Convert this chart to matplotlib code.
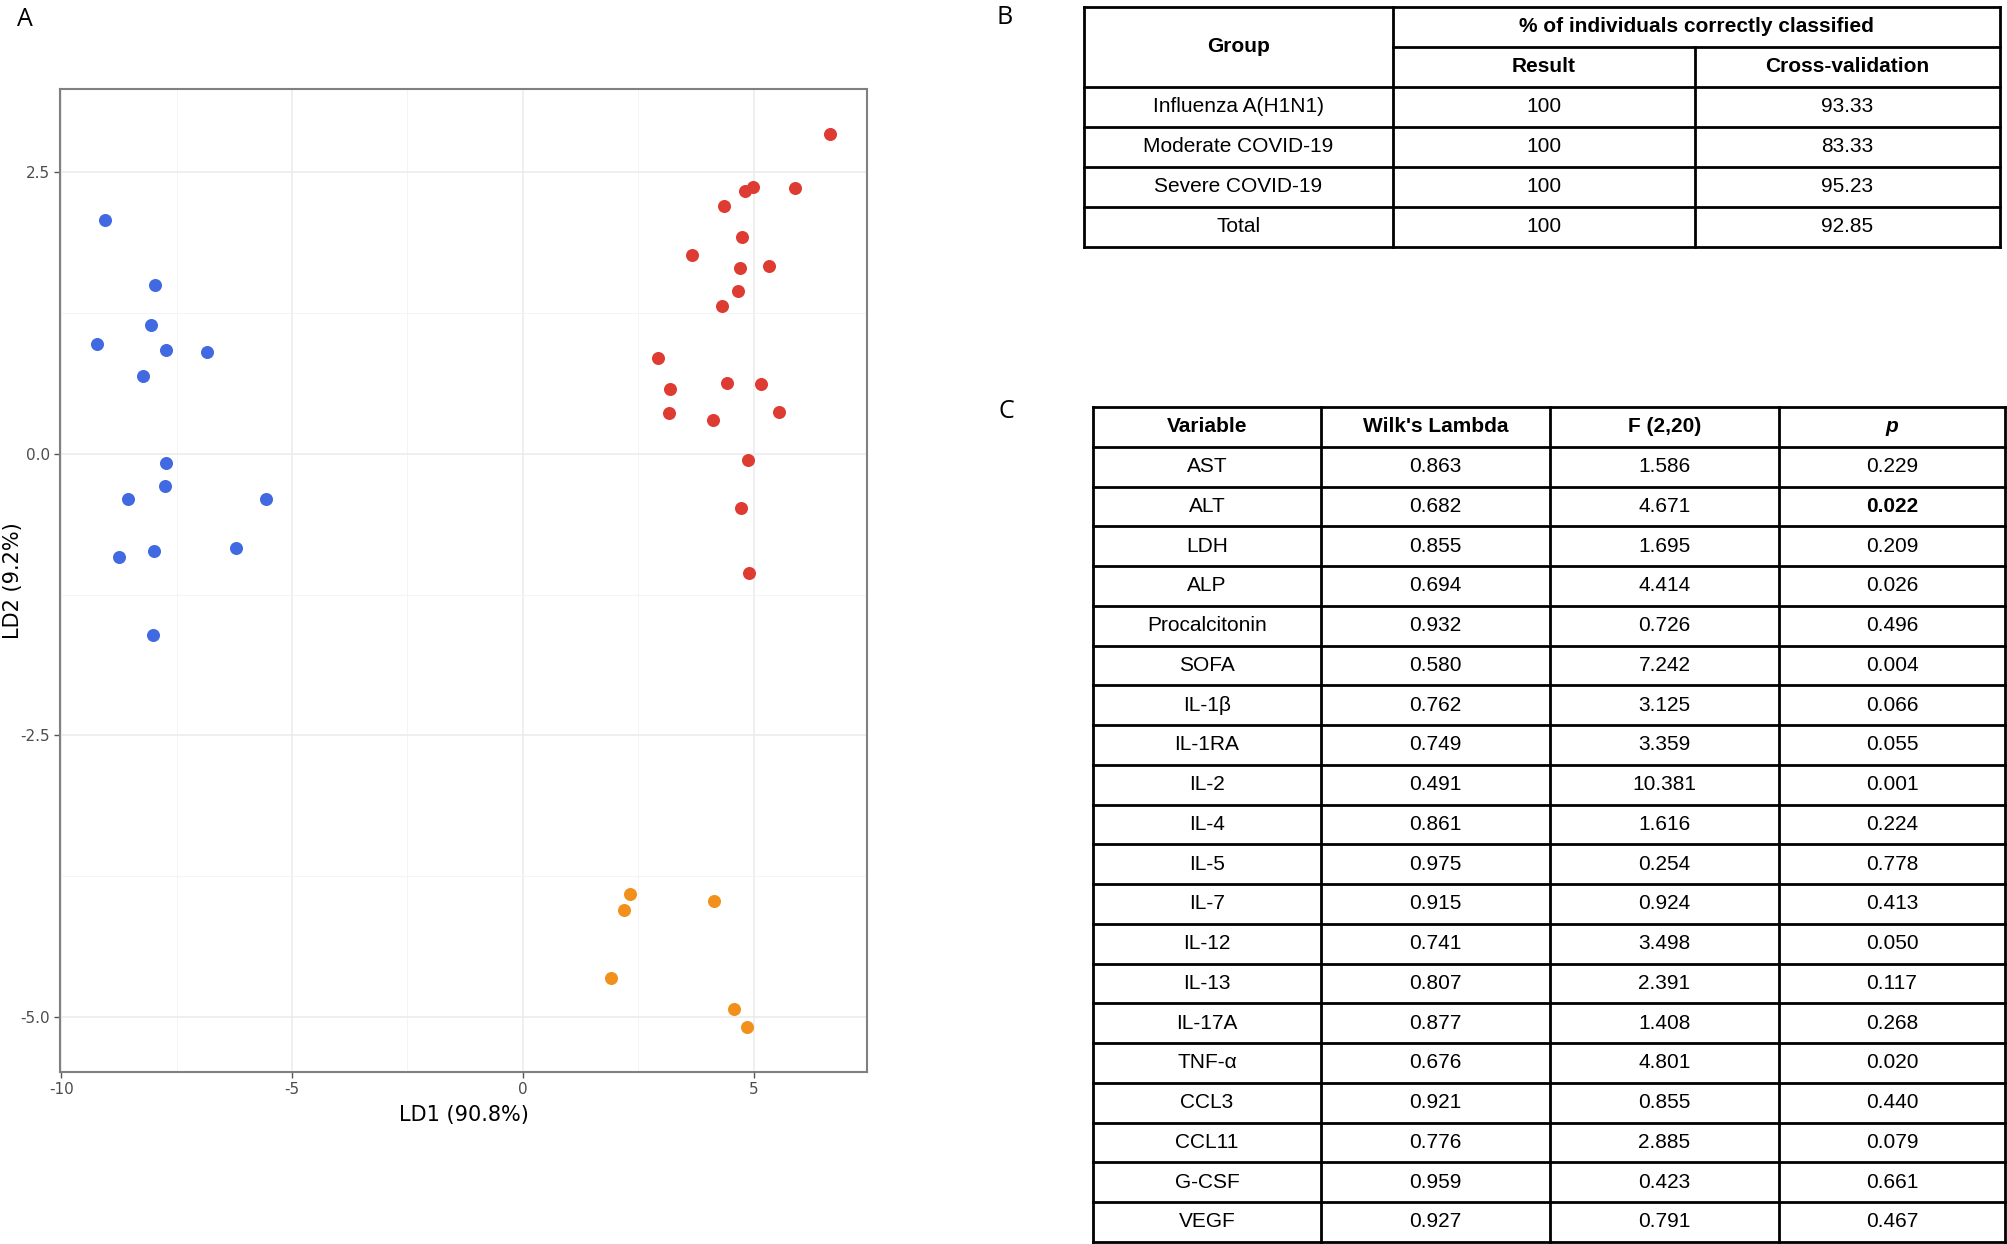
import matplotlib.pyplot as plt
import numpy as np
from matplotlib.ticker import MultipleLocator

# --- dados do LDA ---
ld1_flu = [-9.06, -7.97, -8.05, -9.23, -7.72, -6.85, -8.23, -7.72, -7.75, -8.56, -5.57, -8.75, -7.98, -6.21, -8.02]
ld2_flu = [2.07, 1.50, 1.14, 0.97, 0.92, 0.905, 0.69, -0.085, -0.29, -0.40, -0.40, -0.92, -0.866, -0.84, -1.61]

ld1_sev = [6.66, 4.99, 4.81, 5.90, 4.35, 4.74, 3.67, 4.70, 5.34, 4.67, 4.31, 2.92, 3.18, 3.16, 4.42, 5.16, 4.12, 5.55, 4.87, 4.73, 4.89]
ld2_sev = [2.84, 2.37, 2.33, 2.36, 2.20, 1.92, 1.76, 1.65, 1.67, 1.44, 1.31, 0.85, 0.57, 0.36, 0.63, 0.62, 0.30, 0.37, -0.06, -0.48, -1.06]

ld1_mod = [2.33, 2.20, 4.15, 1.91, 4.58, 4.85]
ld2_mod = [-3.91, -4.05, -3.97, -4.65, -4.93, -5.09]

# --- tabela B ---
groups = ['Influenza A(H1N1)', 'Moderate COVID-19', 'Severe COVID-19', 'Total']
result_pct = ['100', '100', '100', '100']
cv_pct = ['93.33', '83.33', '95.23', '92.85']

# --- tabela C ---
variables = ['AST', 'ALT', 'LDH', 'ALP', 'Procalcitonin', 'SOFA', 'IL-1β', 'IL-1RA', 'IL-2', 'IL-4',
             'IL-5', 'IL-7', 'IL-12', 'IL-13', 'IL-17A', 'TNF-α', 'CCL3', 'CCL11', 'G-CSF', 'VEGF']
wilks = ['0.863', '0.682', '0.855', '0.694', '0.932', '0.580', '0.762', '0.749', '0.491', '0.861',
         '0.975', '0.915', '0.741', '0.807', '0.877', '0.676', '0.921', '0.776', '0.959', '0.927']
f_vals = ['1.586', '4.671', '1.695', '4.414', '0.726', '7.242', '3.125', '3.359', '10.381', '1.616',
          '0.254', '0.924', '3.498', '2.391', '1.408', '4.801', '0.855', '2.885', '0.423', '0.791']
p_vals = ['0.229', '0.022', '0.209', '0.026', '0.496', '0.004', '0.066', '0.055', '0.001', '0.224',
          '0.778', '0.413', '0.050', '0.117', '0.268', '0.020', '0.440', '0.079', '0.661', '0.467']
p_bold = ['ALT']

W, H = 2008, 1244
fig = plt.figure(figsize=(W / 100, H / 100), dpi=100)

# --- painel A: dispersão ---
ax = fig.add_axes([60 / W, 1 - 1072 / H, (867 - 60) / W, (1072 - 89) / H])
ax.scatter(ld1_flu, ld2_flu, s=88, color='#4169E1', linewidths=0, zorder=3)
ax.scatter(ld1_sev, ld2_sev, s=88, color='#DE3B33', linewidths=0, zorder=3)
ax.scatter(ld1_mod, ld2_mod, s=88, color='#F2901C', linewidths=0, zorder=3)
ax.margins(0.05)
ax.xaxis.set_major_locator(MultipleLocator(5))
ax.xaxis.set_minor_locator(MultipleLocator(2.5))
ax.yaxis.set_major_locator(MultipleLocator(2.5))
ax.yaxis.set_minor_locator(MultipleLocator(1.25))
ax.grid(which='major', color='#EBEBEB', lw=1.1)
ax.grid(which='minor', color='#F4F4F4', lw=0.7)
ax.set_axisbelow(True)
ax.tick_params(which='major', length=4, width=1, color='#555555', labelcolor='#4D4D4D', labelsize=11, pad=3)
ax.tick_params(which='minor', length=0)
ax.yaxis.set_major_formatter(plt.FuncFormatter(lambda v, p: f'{v:.1f}'))
ax.xaxis.set_major_formatter(plt.FuncFormatter(lambda v, p: f'{v:.0f}'))
for sp in ax.spines.values():
    sp.set_color('#808080')
    sp.set_linewidth(1.5)
ax.set_xlabel('LD1 (90.8%)', fontsize=15, labelpad=6)
ax.set_ylabel('LD2 (9.2%)', fontsize=15)
ax.yaxis.set_label_coords(-0.046, 0.5)

# --- camada para tabelas e letras ---
ov = fig.add_axes([0, 0, 1, 1], zorder=5)
ov.set_xlim(0, W)
ov.set_ylim(H, 0)
ov.axis('off')

fam = ['Liberation Sans Narrow', 'Liberation Sans', 'DejaVu Sans']
fs = 15
lw = 2

for lab, (lx, ly) in zip(['A', 'B', 'C'], [(25, 20), (1005, 18), (1006, 412)]):
    ov.text(lx, ly, lab, fontsize=18, family=['Open Sans', 'DejaVu Sans'], ha='center', va='center')

# tabela B
bx = [1084, 1393, 1695, 2000]
by0, rh = 7, 40
nb = len(groups) + 2
by = [by0 + rh * i for i in range(nb + 1)]
for i, y in enumerate(by):
    if i == 1:
        ov.plot([bx[1], bx[3]], [y, y], color='black', lw=lw)
    else:
        ov.plot([bx[0], bx[3]], [y, y], color='black', lw=lw)
for j, x in enumerate(bx):
    if j == 2:
        ov.plot([x, x], [by[1], by[-1]], color='black', lw=lw)
    else:
        ov.plot([x, x], [by[0], by[-1]], color='black', lw=lw)
ov.text((bx[0] + bx[1]) / 2, by[1], 'Group', fontsize=fs, weight='bold', family=fam, ha='center', va='center')
ov.text((bx[1] + bx[3]) / 2, (by[0] + by[1]) / 2, '% of individuals correctly classified', fontsize=fs,
        weight='bold', family=fam, ha='center', va='center')
ov.text((bx[1] + bx[2]) / 2, (by[1] + by[2]) / 2, 'Result', fontsize=fs, weight='bold', family=fam, ha='center', va='center')
ov.text((bx[2] + bx[3]) / 2, (by[1] + by[2]) / 2, 'Cross-validation', fontsize=fs, weight='bold', family=fam, ha='center', va='center')
for i, row in enumerate(zip(groups, result_pct, cv_pct)):
    yc = (by[i + 2] + by[i + 3]) / 2
    for j, val in enumerate(row):
        ov.text((bx[j] + bx[j + 1]) / 2, yc, val, fontsize=fs, family=fam, ha='center', va='center')

# tabela C
cx = [1093, 1321, 1550, 1779, 2005]
cy0, crh = 407, 39.75
nc = len(variables) + 1
cy = [cy0 + crh * i for i in range(nc + 1)]
for y in cy:
    ov.plot([cx[0], cx[-1]], [y, y], color='black', lw=lw)
for x in cx:
    ov.plot([x, x], [cy[0], cy[-1]], color='black', lw=lw)
headers = ['Variable', "Wilk's Lambda", 'F (2,20)', 'p']
for j, htxt in enumerate(headers):
    ov.text((cx[j] + cx[j + 1]) / 2, (cy[0] + cy[1]) / 2, htxt, fontsize=fs, weight='bold', family=fam,
            style='italic' if htxt == 'p' else 'normal', ha='center', va='center')
for i, row in enumerate(zip(variables, wilks, f_vals, p_vals)):
    yc = (cy[i + 1] + cy[i + 2]) / 2
    for j, val in enumerate(row):
        wt = 'bold' if (j == 3 and row[0] in p_bold) else 'normal'
        ov.text((cx[j] + cx[j + 1]) / 2, yc, val, fontsize=fs, weight=wt, family=fam, ha='center', va='center')

fig.savefig('out.png', dpi=100)
